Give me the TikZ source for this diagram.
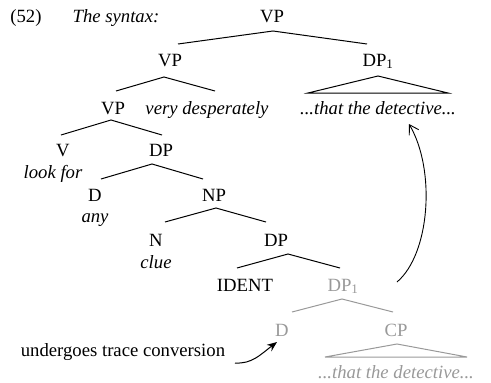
\documentclass[tikz,border=0pt]{standalone}
\usepackage{fontspec}
\setmainfont{Liberation Serif}
\usetikzlibrary{arrows.meta}
\definecolor{lightg}{HTML}{999999}
\begin{document}
\begin{tikzpicture}[x=1pt,y=-1pt,
  lab/.style={anchor=base,inner sep=0pt,font=\fontsize{18.7}{21}\selectfont},
  ital/.style={lab,font=\fontsize{18.7}{21}\selectfont\itshape},
  gr/.style={text=lightg},
  br/.style={line width=1pt},
  grbr/.style={line width=1pt,draw=lightg}]
\useasboundingbox (0,0) rectangle (491,383);
% labels
\node[lab] (num) at (26,22) {(52)};
\node[ital] (syn) at (116,22) {The syntax:};
\node[lab] (vp0) at (272,22) {VP};
\node[lab] (vp1) at (170,66) {VP};
\node[lab] (dp1) at (378,66) {DP\textsubscript{1}};
\node[lab] (vp2) at (113,114) {VP};
\node[ital] (adv) at (207,114) {very desperately};
\node[ital] (thd) at (378,114) {...that the detective...};
\node[lab] (v) at (63,156) {V};
\node[ital] (lf) at (53,178) {look for};
\node[lab] (dp2) at (161,156) {DP};
\node[lab] (d1) at (95,201) {D};
\node[ital] (any) at (95,222) {any};
\node[lab] (np) at (214,201) {NP};
\node[lab] (n) at (156,246) {N};
\node[ital] (clue) at (156,268) {clue};
\node[lab] (dp3) at (276,246) {DP};
\node[lab] (ident) at (245,291) {IDENT};
\node[lab,gr] (dpg) at (343,291) {DP\textsubscript{1}};
\node[lab,gr] (dg) at (282,336) {D};
\node[lab,gr] (cpg) at (396,336) {CP};
\node[ital,gr] (thdg) at (396,378) {...that the detective...};
\node[lab] (utc) at (123,356) {undergoes trace conversion};
% branches
\coordinate (a0) at (273,31); \coordinate (a0l) at (178,44); \coordinate (a0r) at (367,44);
\draw[br] (a0l) -- (a0) -- (a0r);
\coordinate (a1) at (164,77); \coordinate (a1l) at (116,91); \coordinate (a1r) at (215,91);
\draw[br] (a1l) -- (a1) -- (a1r);
\coordinate (t1) at (378,76); \coordinate (t1l) at (308,93); \coordinate (t1r) at (448,93);
\draw[br] (t1) -- (t1l) -- (t1r) -- cycle;
\coordinate (a2) at (111,120); \coordinate (a2l) at (61,135); \coordinate (a2r) at (162,135);
\draw[br] (a2l) -- (a2) -- (a2r);
\coordinate (a3) at (152,164); \coordinate (a3l) at (101,179); \coordinate (a3r) at (203,179);
\draw[br] (a3l) -- (a3) -- (a3r);
\coordinate (a4) at (216,208); \coordinate (a4l) at (165,222); \coordinate (a4r) at (266,222);
\draw[br] (a4l) -- (a4) -- (a4r);
\coordinate (a5) at (288,254); \coordinate (a5l) at (237,268); \coordinate (a5r) at (340,268);
\draw[br] (a5l) -- (a5) -- (a5r);
\coordinate (a6) at (342,299); \coordinate (a6l) at (292,312); \coordinate (a6r) at (393,312);
\draw[grbr] (a6l) -- (a6) -- (a6r);
\coordinate (t2) at (397,344); \coordinate (t2l) at (325,357); \coordinate (t2r) at (467,357);
\draw[grbr] (t2) -- (t2l) -- (t2r) -- cycle;
% arrows
\coordinate (mvs) at (397,282); \coordinate (mve) at (409,124);
\draw[line width=0.9pt,-{Straight Barb[length=9pt,width=11pt]}] (mvs) .. controls (430,254) and (436,170) .. (mve);
\coordinate (tcs) at (235,363); \coordinate (tce) at (277,342);
\draw[line width=1pt,-{Stealth[length=10pt,width=8pt]}] (tcs) .. controls (252,364) and (260,355) .. (tce);
\end{tikzpicture}
\end{document}
